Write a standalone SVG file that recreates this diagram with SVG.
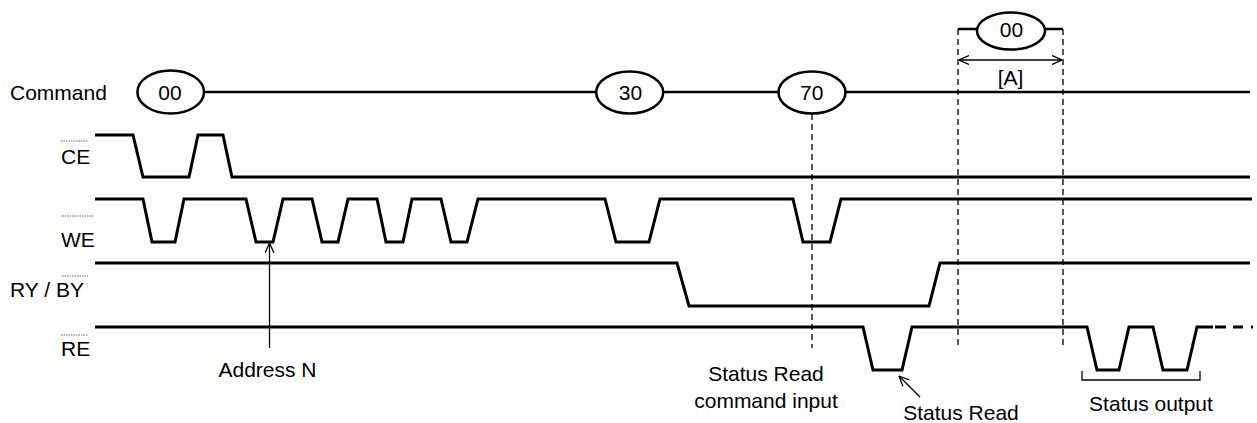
<svg xmlns="http://www.w3.org/2000/svg" width="1257" height="423" viewBox="0 0 1257 423">
<defs>
<marker id="ah" viewBox="0 0 10 10" refX="10" refY="5" markerWidth="10" markerHeight="10" markerUnits="userSpaceOnUse" orient="auto-start-reverse">
<path d="M0,0.5 L10,5 L0,9.5" fill="none" stroke="#000" stroke-width="1.3"/>
</marker>
<style>
text{font-family:"Liberation Sans",Arial,sans-serif;font-size:21px;fill:#000}
.mid{text-anchor:middle}
.wave{fill:none;stroke:#000;stroke-width:3;stroke-linejoin:miter}
.bus{fill:none;stroke:#000;stroke-width:2.5}
.ell{fill:#fff;stroke:#000;stroke-width:2.5}
.dash{fill:none;stroke:#000;stroke-width:1.3;stroke-dasharray:6,4}
.ovl{fill:none;stroke:#666;stroke-width:1;stroke-dasharray:1.5,1}
.thin{fill:none;stroke:#000;stroke-width:1.3}
</style>
</defs>
<rect width="1257" height="423" fill="#fff"/>

<g id="command">
<text x="10" y="100">Command</text>
<path class="bus" d="M204,92 H596 M663,92 H778 M846,92 H1250"/>
<g id="cmd-00"><ellipse class="ell" cx="170.7" cy="92" rx="33.3" ry="21.5"/><text class="mid" x="170" y="100">00</text></g>
<g id="cmd-30"><ellipse class="ell" cx="629.7" cy="92.5" rx="33.5" ry="21"/><text class="mid" x="630.5" y="100">30</text></g>
<g id="cmd-70"><ellipse class="ell" cx="812" cy="92.5" rx="33.5" ry="21"/><text class="mid" x="811.7" y="100">70</text></g>
</g>

<g id="cmd-A">
<path class="bus" d="M958,29 H977 M1045,29 H1063"/>
<ellipse class="ell" cx="1011" cy="31" rx="34" ry="18.5"/>
<text class="mid" x="1011.5" y="37">00</text>
<text class="mid" x="1010.5" y="85">[A]</text>
</g>

<g id="CE">
<text x="61" y="164">CE</text>
<line class="ovl" x1="61" y1="141" x2="88" y2="141"/>
<path class="wave" d="M95,135 H133 L143,177 H189 L198,135 H223 L232,177 H1250"/>
</g>

<g id="WE">
<text x="61" y="247">WE</text>
<line class="ovl" x1="62" y1="216" x2="94" y2="216"/>
<path class="wave" d="M95,199 H143 L152,242 H175 L184,199 H246 L256,242 H273 L283,199 H312 L322,242 H338 L348,199 H377 L386,242 H403 L412,199 H441 L451,242 H467 L478,199 H605 L616,242 H649 L660,199 H793 L803,242 H830 L841,199 H1252"/>
</g>

<g id="RYBY">
<text x="10" y="297">RY / BY</text>
<line class="ovl" x1="62" y1="276" x2="88" y2="276"/>
<path class="wave" d="M95,263 H677 L689,306 H929 L940,263 H1250"/>
</g>

<g id="RE">
<text x="61" y="356">RE</text>
<line class="ovl" x1="61" y1="335" x2="88" y2="335"/>
<path class="wave" d="M95,327 H863 L873,370 H902 L912,327 H1087 L1097,370 H1119 L1129,327 H1153 L1163,370 H1187 L1197,327 H1213"/>
<path class="wave" d="M1215,327 H1226 M1233,327 H1243 M1251,327 H1253"/>
</g>

<g id="connectors">
<line class="dash" x1="812" y1="114" x2="812" y2="348"/>
<line class="dash" x1="958" y1="29" x2="958" y2="348"/>
<line class="dash" x1="1063" y1="29" x2="1063" y2="348"/>
<line class="thin" x1="959" y1="60" x2="1062" y2="60" marker-start="url(#ah)" marker-end="url(#ah)"/>
<line class="thin" x1="269.5" y1="348" x2="269.5" y2="243" marker-end="url(#ah)"/>
<line class="thin" x1="920" y1="397" x2="899" y2="376" marker-end="url(#ah)"/>
<path class="thin" d="M1082,371 V380 H1200 V371" stroke="#333"/>
</g>

<g id="labels">
<text class="mid" x="267.5" y="377">Address N</text>
<text class="mid" x="766" y="381">Status Read</text>
<text class="mid" x="766" y="408">command input</text>
<text class="mid" x="961" y="420">Status Read</text>
<text class="mid" x="1151" y="411">Status output</text>
</g>
</svg>
